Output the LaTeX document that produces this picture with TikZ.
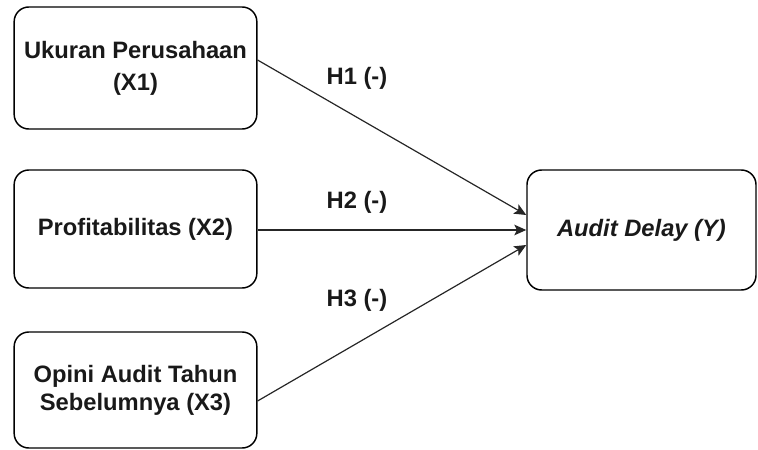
\documentclass[tikz,border=0pt]{standalone}
\usepackage{fontspec}
\setmainfont{Liberation Sans}
\usepackage{tikz}
\usetikzlibrary{arrows.meta,positioning,calc}

\begin{document}
\begin{tikzpicture}[x=0.75pt,y=-0.75pt,
  varbox/.style={shape=rectangle,rounded corners=11pt,draw=black,line width=1.1pt,
    align=center,font=\fontsize{17.8}{21}\selectfont\bfseries,text=black!90,
    minimum width=182pt,inner sep=0pt},
  hyplabel/.style={font=\fontsize{17.8}{21}\selectfont\bfseries,text=black!90},
  link/.style={line width=0.9pt,draw=black!85,-{Stealth[length=9pt,width=8pt,inset=2pt]}}]
\useasboundingbox (0,0) rectangle (758,450);

\node[varbox,minimum height=91.5pt] (x1) at (135.5,68) {Ukuran Perusahaan\\[3pt](X1)};
\node[varbox,minimum height=88.5pt] (x2) at (135.5,229) {Profitabilitas (X2)};
\node[varbox,minimum height=87pt] (x3) at (135.5,390) {Opini Audit Tahun\\Sebelumnya (X3)};
\node[varbox,minimum height=90pt,minimum width=171.75pt,font=\fontsize{17.8}{21}\selectfont\bfseries\itshape] (y) at (641.5,230) {Audit Delay (Y)};

\node[hyplabel] (h1) at (357,78) {H1 (-)};
\node[hyplabel] (h2) at (357,202) {H2 (-)};
\node[hyplabel] (h3) at (357,300) {H3 (-)};

\draw [link] ([yshift=6pt]x1.east) -- ([yshift=11.25pt]y.west);
\draw [link] ([yshift=-0.75pt]x2.east) -- (y.west);
\draw [link] ([yshift=-8.25pt]x3.east) -- ([yshift=-11.25pt]y.west);
\end{tikzpicture}
\end{document}
